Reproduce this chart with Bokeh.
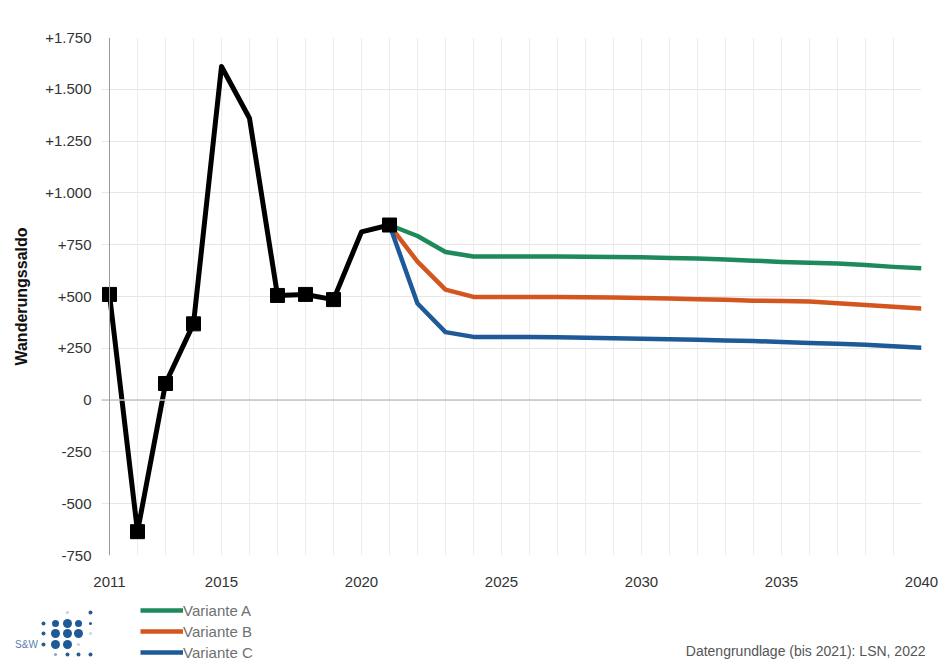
from bokeh.plotting import figure
from bokeh.layouts import column
from bokeh.models import FixedTicker, Legend, LegendItem, Label, Span, Range1d
from bokeh.embed import file_html
from bokeh.resources import INLINE

# Historical migration balance (Wanderungssaldo)
hist_years = list(range(2011, 2022))
hist_values = [510, -635, 80, 368, 1610, 1360, 505, 510, 485, 812, 845]
marker_years = [2011, 2012, 2013, 2014, 2017, 2018, 2019, 2021]

# Projection variants 2021-2040
proj_years = list(range(2021, 2041))
variante_a = [845, 792, 715, 693, 693, 693, 693, 692, 691, 689, 686, 683, 679, 673, 667, 663, 659, 652, 643, 636]
variante_b = [845, 668, 533, 498, 498, 498, 497, 496, 495, 493, 490, 487, 484, 480, 478, 476, 467, 459, 451, 442]
variante_c = [845, 466, 328, 305, 304, 304, 303, 301, 299, 296, 294, 291, 288, 285, 280, 276, 272, 267, 260, 253]

series_names = ["Variante A", "Variante B", "Variante C"]
series_colors = ["#1e8a5c", "#d2561e", "#1f5a98"]

x_ticks = [2011, 2015, 2020, 2025, 2030, 2035, 2040]
y_ticks = [-750, -500, -250, 0, 250, 500, 750, 1000, 1250, 1500, 1750]
y_tick_labels = ["-750", "-500", "-250", "0", "+250", "+500", "+750",
                 "+1.000", "+1.250", "+1.500", "+1.750"]
source_note = "Datengrundlage (bis 2021): LSN, 2022"

FONT = "Liberation Sans"
W = 943

# ---------------- main chart ----------------
p = figure(width=W, height=600, output_backend="svg", toolbar_location=None,
           x_range=Range1d(2011 - 8 / 28, 2040), y_range=Range1d(-750, 1750),
           min_border_left=101, min_border_right=22, min_border_top=37,
           min_border_bottom=45)
p.outline_line_color = None

# grid
p.xgrid.ticker = FixedTicker(ticks=list(range(2012, 2041)))
p.xgrid.grid_line_color = "#ededed"
p.ygrid.ticker = FixedTicker(ticks=y_ticks)
p.ygrid.grid_line_color = "#e6e6e6"
p.add_layout(Span(location=0, dimension="width", line_color="#c4c4c4", line_width=1.5))
# vertical axis line drawn at the first year
p.add_layout(Span(location=2011, dimension="height", line_color="#9a9a9a", line_width=1))

# axes
p.xaxis.ticker = FixedTicker(ticks=x_ticks)
p.xaxis.axis_line_color = None
p.xaxis.major_tick_line_color = None
p.xaxis.minor_tick_line_color = None
p.xaxis.major_label_standoff = 15
p.yaxis.ticker = FixedTicker(ticks=y_ticks)
p.yaxis.major_label_overrides = {t: s for t, s in zip(y_ticks, y_tick_labels)}
p.yaxis.axis_line_color = None
p.yaxis.major_tick_line_color = None
p.yaxis.minor_tick_line_color = None
p.yaxis.major_label_standoff = 4
p.yaxis.axis_label = "Wanderungssaldo"
p.yaxis.axis_label_text_font = FONT
p.yaxis.axis_label_text_font_style = "bold"
p.yaxis.axis_label_text_font_size = "16px"
p.yaxis.axis_label_text_color = "#111111"
p.yaxis.axis_label_standoff = 12
for ax in (p.xaxis, p.yaxis):
    ax.major_label_text_font = FONT
    ax.major_label_text_font_size = "15px"
    ax.major_label_text_color = "#333333"

# projection lines
for vals, color in zip([variante_a, variante_b, variante_c], series_colors):
    p.line(proj_years, vals, line_color=color, line_width=4.5, line_join="round")

# history line with markers
p.line(hist_years, hist_values, line_color="black", line_width=5, line_join="round")
lookup = dict(zip(hist_years, hist_values))
p.scatter(marker_years, [lookup[y] for y in marker_years], marker="square",
          size=14, fill_color="black", line_color="black")

# ---------------- footer strip: logo, legend, source ----------------
f = figure(width=W, height=62, output_backend="svg", toolbar_location=None,
           x_range=Range1d(0, W), y_range=Range1d(62, 0),
           x_axis_location=None, y_axis_location=None,
           min_border=0)
f.outline_line_color = None
f.grid.visible = False
for fig in (p, f):
    try:
        fig.frame_align = False
    except Exception:
        pass

# legend swatches: the variant series, which lie outside this strip's ranges
legend_renderers = [f.line(proj_years, vals, line_color=c, line_width=4.5)
                    for vals, c in zip([variante_a, variante_b, variante_c], series_colors)]
legend = Legend(items=[LegendItem(label=n, renderers=[r])
                       for n, r in zip(series_names, legend_renderers)],
                location=(140, 0), orientation="vertical",
                glyph_width=43, glyph_height=20, label_height=20, label_standoff=0,
                spacing=1, padding=0, margin=0,
                border_line_color=None, background_fill_alpha=0,
                label_text_font=FONT, label_text_font_size="15px",
                label_text_color="#707070")
f.add_layout(legend)

f.add_layout(Label(x=925, y=50, text=source_note, text_align="right",
                   text_baseline="middle", text_font=FONT, text_font_size="14px",
                   text_color="#555555"))

# S&W logo: dot matrix with lettering
logo_x = [67, 90, 43, 55, 67, 78, 90, 43, 55, 67, 78, 90, 43, 55, 67, 78, 55, 67, 78, 90]
logo_y = [12, 12, 23, 23, 23, 23, 23, 33, 33, 33, 33, 33, 44, 44, 44, 44, 54, 54, 54, 54]
logo_s = [3, 4, 4, 7, 9, 7, 3, 4, 9, 9, 9, 3, 4, 9, 9, 3, 3, 4, 4, 4]
logo_c = ["#c2d0e2", "#2a5a90", "#2a5a90", "#1f5a98", "#1f5a98", "#1f5a98", "#2a5a90",
          "#2a5a90", "#1f5a98", "#1f5a98", "#1f5a98", "#c8d4e4",
          "#2a5a90", "#1f5a98", "#1f5a98", "#c8d4e4",
          "#8aa4c4", "#2a5a90", "#2a5a90", "#2a5a90"]
f.scatter(logo_x, logo_y, size=logo_s, fill_color=logo_c, line_color=None)
f.add_layout(Label(x=26, y=44, text="S&W", text_align="center", text_baseline="middle",
                   text_font=FONT, text_font_size="10px", text_color="#5b7fae"))

layout = column(p, f, spacing=0)
open("out.html", "w").write(file_html(layout, INLINE))
